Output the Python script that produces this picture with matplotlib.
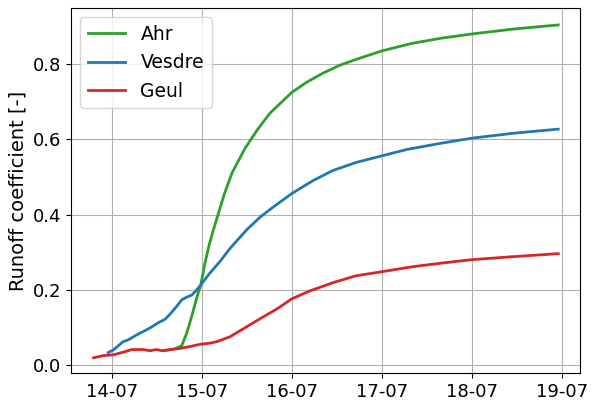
import matplotlib
matplotlib.use("Agg")
import matplotlib.pyplot as plt
import matplotlib.dates as mdates
import pandas as pd

start = pd.Timestamp("2021-07-14 00:00")

# hours since 14-07 00:00 and runoff coefficient per catchment
ahr_hours = [14.1, 16.8, 18.6, 19.9, 21.3, 22.6, 23.7, 24.8, 25.9, 27.0, 28.3, 30.0, 32.0,
             35.5, 38.7, 42.1, 48, 52, 56.3, 60.8, 65.3, 72, 80, 88, 96, 107, 119]
ahr_vals = [0.038, 0.043, 0.051, 0.083, 0.13, 0.178, 0.213, 0.27, 0.318, 0.357, 0.40, 0.455,
            0.51, 0.576, 0.624, 0.669, 0.725, 0.752, 0.776, 0.797, 0.813, 0.835, 0.855,
            0.869, 0.88, 0.893, 0.904]

vesdre_hours = [-1, 0.4, 3, 4.4, 6.6, 10.1, 12.3, 14.1, 15.5, 17.2, 18.6, 19.9, 21.3, 22.3,
                23.7, 26.1, 28.8, 31.5, 36, 39.5, 42.9, 48, 53.6, 58.9, 65.3, 72, 78.7,
                87.5, 96, 107, 119]
vesdre_vals = [0.033, 0.04, 0.062, 0.067, 0.08, 0.098, 0.112, 0.121, 0.135, 0.155, 0.173, 0.18,
               0.186, 0.196, 0.213, 0.244, 0.275, 0.31, 0.36, 0.393, 0.419, 0.456, 0.49, 0.517,
               0.539, 0.556, 0.573, 0.589, 0.603, 0.616, 0.627]

geul_hours = [-4.9, -2.3, 0.4, 3, 5.3, 8.4, 10.1, 11.9, 13.3, 15.5, 18.1, 20.8, 23.5, 26.1,
              28, 31.5, 35, 39.5, 44, 48, 52.8, 59, 65, 72, 80, 88, 96, 107, 119]
geul_vals = [0.019, 0.025, 0.027, 0.034, 0.041, 0.041, 0.038, 0.041, 0.038, 0.041, 0.044,
             0.049, 0.055, 0.058, 0.062, 0.075, 0.096, 0.123, 0.149, 0.176, 0.197, 0.219,
             0.237, 0.248, 0.261, 0.271, 0.28, 0.288, 0.296]


def to_time(hours):
    return [start + pd.Timedelta(hours=h) for h in hours]


fig = plt.figure(figsize=(5.91, 4.0), dpi=100)
ax = fig.add_axes([71 / 591, 1 - 373 / 400, (580 - 71) / 591, (373 - 8) / 400])

ax.plot(to_time(ahr_hours), ahr_vals, color="tab:green", lw=2, label="Ahr")
ax.plot(to_time(vesdre_hours), vesdre_vals, color="tab:blue", lw=2, label="Vesdre")
ax.plot(to_time(geul_hours), geul_vals, color="tab:red", lw=2, label="Geul")

ax.set_xlim(start + pd.Timedelta(hours=-10.9), start + pd.Timedelta(hours=124.8))
ax.set_ylim(-0.0213, 0.949)
ax.set_yticks([0.0, 0.2, 0.4, 0.6, 0.8])
ax.xaxis.set_major_locator(mdates.DayLocator())
ax.xaxis.set_major_formatter(mdates.DateFormatter("%d-%m"))
ax.tick_params(labelsize=13)
ax.set_ylabel("Runoff coefficient [-]", fontsize=14)
ax.grid(True)
ax.legend(loc="upper left", fontsize=13.5)

fig.savefig("out.png", dpi=100)
